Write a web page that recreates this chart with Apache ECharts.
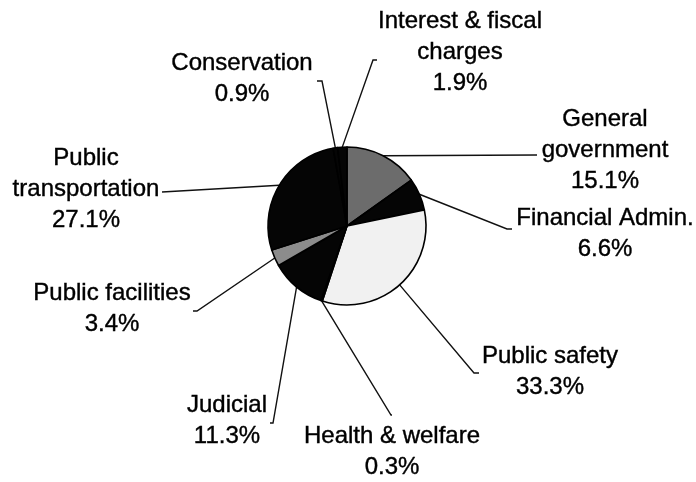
<!DOCTYPE html>
<html><head><meta charset="utf-8">
<script src="https://cdn.jsdelivr.net/npm/echarts@6/dist/echarts.min.js"></script>
<style>html,body{margin:0;padding:0;background:#fff}#c{width:696px;height:482px}</style>
</head><body><div id="c"></div><script>
// Data (clockwise from 12 o'clock)
const categories = ['General\ngovernment', 'Financial Admin.', 'Public safety', 'Health & welfare', 'Judicial', 'Public facilities', 'Public\ntransportation', 'Conservation', 'Interest & fiscal\ncharges'];
const values = [15.1, 6.6, 33.3, 0.3, 11.3, 3.4, 27.1, 0.9, 1.9];

// Styling / layout (not data)
const sliceColors = ['#6c6c6c', '#050505', '#f1f1f1', '#050505', '#050505', '#8c8c8c', '#050505', '#050505', '#050505'];
const labelCenters = [[605, 150], [605, 234], [550, 372], [392, 452], [227, 421], [112, 309], [86, 189], [242, 79], [460, 52]];
const leaderEnds = [[537, 155, 0], [507, 229, 5], [474, 373, 5], [391, 415, 1], [273, 423, -3], [197, 311, -4], [162, 192, 0], [322, 81, -5], [373, 60, 4]];

const chart = echarts.init(document.getElementById('c'), null, {renderer: 'canvas'});
chart.setOption({
  backgroundColor: '#ffffff',
  animation: false,
  series: [{
    type: 'pie',
    center: [347, 226],
    radius: 79,
    startAngle: 90,
    clockwise: true,
    avoidLabelOverlap: false,
    data: categories.map((c, i) => ({name: c, value: values[i], itemStyle: {color: sliceColors[i]}})),
    itemStyle: {borderColor: '#000', borderWidth: 1.6},
    label: {
      show: true,
      position: 'outside',
      formatter: '{b}\n{c}%',
      fontFamily: '"Liberation Sans", Arial, sans-serif',
      fontSize: 24,
      lineHeight: 31,
      color: '#000',
      textBorderColor: '#000',
      textBorderWidth: 0.4,
      align: 'center'
    },
    labelLine: {show: true, length: 10, length2: 10, lineStyle: {color: '#111', width: 1.4}},
    labelLayout: function (params) {
      const i = params.dataIndex;
      const p = labelCenters[i];
      const e = leaderEnds[i];
      const res = {x: p[0], y: p[1], align: 'center', verticalAlign: 'middle'};
      if (params.labelLinePoints && params.labelLinePoints[0]) {
        const s = params.labelLinePoints[0];
        res.labelLinePoints = [[s[0], s[1]], [e[0], e[1]], [e[0] + e[2], e[1]]];
      }
      return res;
    },
    emphasis: {disabled: true}
  }]
});
</script></body></html>
